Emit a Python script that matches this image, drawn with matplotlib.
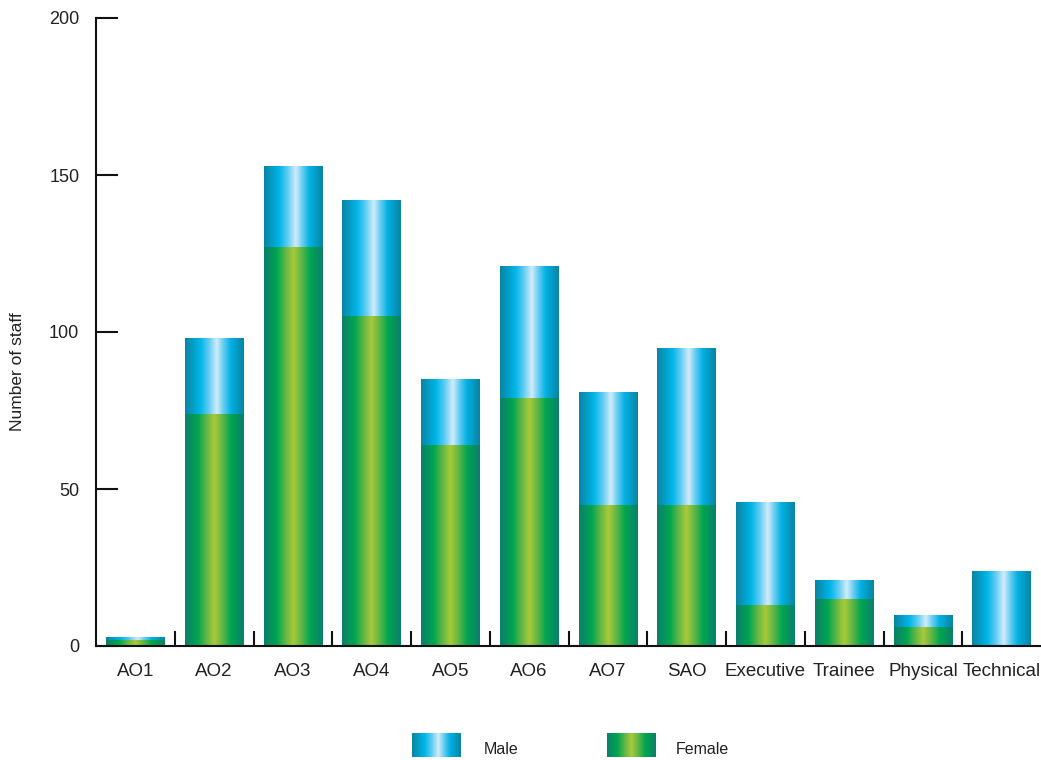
import matplotlib.pyplot as plt
import numpy as np
from matplotlib.colors import LinearSegmentedColormap

plt.rcParams['font.family'] = ['Liberation Sans', 'DejaVu Sans']

# staff numbers by grade
grades = ['AO1', 'AO2', 'AO3', 'AO4', 'AO5', 'AO6', 'AO7', 'SAO',
          'Executive', 'Trainee', 'Physical', 'Technical']
female = [2, 74, 127, 105, 64, 79, 45, 45, 13, 15, 6, 0]
male = [1, 24, 26, 37, 21, 42, 36, 50, 33, 6, 4, 24]

# horizontal "tube" shading for each series
male_cmap = LinearSegmentedColormap.from_list('male', [
    (0.00, '#0a84a3'), (0.26, '#00b6e9'), (0.40, '#5ecbf2'),
    (0.54, '#d2ecfa'), (0.66, '#5ecbf1'), (0.78, '#00b0e2'), (1.00, '#0a84a3')])
female_cmap = LinearSegmentedColormap.from_list('female', [
    (0.00, '#0b7f6c'), (0.22, '#00a650'), (0.36, '#5fb646'),
    (0.50, '#a9ca3a'), (0.64, '#5fb646'), (0.78, '#00a650'), (1.00, '#0b7f6c')])
grad = np.linspace(0, 1, 256).reshape(1, -1)

fig = plt.figure(figsize=(10.41, 7.6), dpi=100)
ax = fig.add_axes([96 / 1041, 1 - 646 / 760, 1 - 96 / 1041, (646 - 18) / 760])

x = np.arange(len(grades))
width = 0.74


def shade(bars, cmap):
    for b in bars:
        if b.get_height() <= 0:
            continue
        x0, y0 = b.get_x(), b.get_y()
        im = ax.imshow(grad, cmap=cmap, aspect='auto', interpolation='bilinear',
                       extent=(x0, x0 + b.get_width(), y0, y0 + b.get_height()),
                       zorder=2)
        im.set_clip_path(b)


fbars = ax.bar(x, female, width, facecolor='none', edgecolor='none')
mbars = ax.bar(x, male, width, bottom=female, facecolor='none', edgecolor='none')
shade(fbars, female_cmap)
shade(mbars, male_cmap)

ax.set_xlim(-0.5, len(grades) - 0.5)
ax.set_ylim(0, 200)
ax.set_yticks([0, 50, 100, 150, 200])
ax.set_xticks(x)
ax.set_xticklabels(grades)
ax.set_xticks(x[:-1] + 0.5, minor=True)
ax.tick_params(axis='x', which='major', length=0, pad=12, labelsize=13.5, labelcolor='#222222')
ax.tick_params(axis='x', which='minor', direction='in', length=11, width=1.5, color='#111111')
ax.tick_params(axis='y', direction='in', length=16, width=1.5, pad=12, labelsize=13,
               color='#111111', labelcolor='#222222')
for s in ['top', 'right']:
    ax.spines[s].set_visible(False)
for s in ['left', 'bottom']:
    ax.spines[s].set_linewidth(1.5)
    ax.spines[s].set_color('#111111')
fig.text(18 / 1041, 1 - 372 / 760, 'Number of staff', fontsize=12.5, rotation=90,
         ha='center', va='center', color='#222222')

# legend drawn in pixel coordinates
lax = fig.add_axes([0, 0, 1, 1], zorder=-1)
lax.axis('off')
for sx, tx, cmap, label in [(412, 484, male_cmap, 'Male'),
                            (607, 676, female_cmap, 'Female')]:
    lax.imshow(grad, cmap=cmap, aspect='auto', interpolation='bilinear',
               extent=(sx, sx + 49, 757, 733))
    lax.text(tx, 749, label, fontsize=11.5, va='center', ha='left', color='#222222')
lax.set_xlim(0, 1041)
lax.set_ylim(760, 0)

fig.savefig('out.png', dpi=100)
